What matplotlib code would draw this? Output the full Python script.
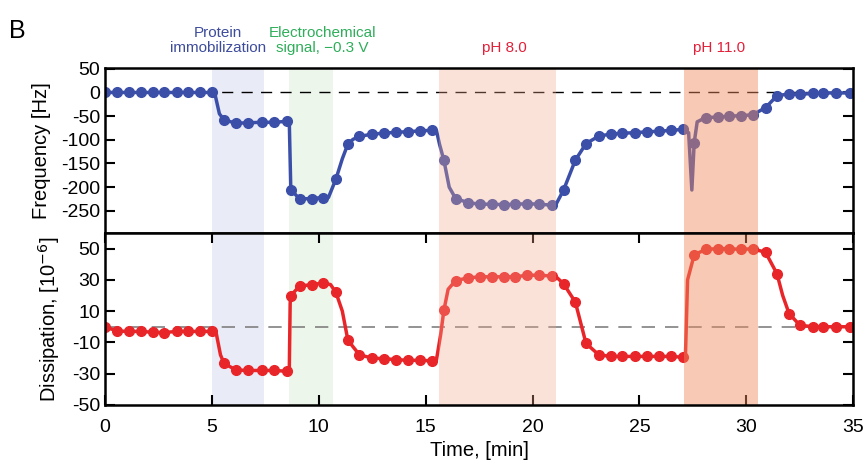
import matplotlib.pyplot as plt

plt.rcParams['font.family'] = ['Liberation Sans', 'DejaVu Sans']
plt.rcParams['axes.unicode_minus'] = False

# sample times (min) where the markers sit
t_pts = [0.0, 0.55, 1.1, 1.67, 2.23, 2.77, 3.35, 3.9, 4.44, 4.99,
         5.57, 6.13, 6.7, 7.32, 7.9, 8.5, 8.69, 9.1, 9.67, 10.2,
         10.8, 11.36, 11.9, 12.48, 13.06, 13.6, 14.15, 14.74, 15.28, 15.85,
         16.4, 17.0, 17.55, 18.1, 18.67, 19.2, 19.76, 20.3, 20.9, 21.45,
         22.0, 22.5, 23.1, 23.66, 24.2, 24.8, 25.35, 25.9, 26.47, 27.03,
         27.56, 28.1, 28.67, 29.2, 29.76, 30.3, 30.9, 31.43, 32.0, 32.5,
         33.1, 33.6, 34.2, 34.86]

freq = [0, 0, 0, 0, 0, 0, 0, 0, 0, 0,
        -58, -65, -64, -63, -63, -61, -205, -225, -224, -222,
        -183, -109, -93, -88, -86, -84, -83, -81, -80, -143,
        -224, -233, -236, -236, -237, -236, -235, -236, -238, -206,
        -143, -108, -92, -88, -86, -85, -83, -82, -80, -78,
        -106, -53, -52, -50, -49, -47, -32, -7, -3, -4,
        -2, -1, -1, -1]

diss = [0, -2.7, -3, -3, -3.5, -3.7, -3, -3, -3, -3,
        -23.5, -27.7, -28, -28, -28, -28.5, 20, 26, 27, 28,
        22, -8.6, -18, -20, -20.5, -21, -21.5, -21.5, -21.8, 10.5,
        29.6, 31.3, 32, 32, 32, 32, 33, 33, 32.5, 27.5,
        15.8, -10.7, -18, -19, -19, -19, -19, -19, -19, -19.5,
        46, 49.6, 50, 50, 49.5, 50, 47.6, 34, 8.4, 1,
        0, 0, 0, 0]

# extra line vertices (sharp corners / the pH 11 dip)
freq_extra_t = [5.15, 5.35, 8.62, 10.45, 11.1, 11.6, 15.5, 15.65, 16.1, 21.1, 27.3, 27.45, 27.7]
freq_extra_v = [-5, -45, -63, -222, -140, -99, -80, -110, -200, -236, -85, -206, -62]
diss_extra_t = [5.2, 5.4, 8.62, 8.66, 10.55, 11.1, 15.5, 15.7, 16.05, 21.1, 27.15, 27.25, 31.7]
diss_extra_v = [-4, -18, -27, 15, 27, 10, -21.5, -5, 24, 32, -19, 30, 20]

spans = [(5.0, 7.45), (8.6, 10.67), (15.6, 21.1), (27.1, 30.55)]
span_colors = ['#e9ebf7', '#edf6ea', '#f5a88a', '#f08a5d']
span_alphas = [1.0, 1.0, 0.33, 0.45]
span_z = [1, 1, 4, 4]
span_labels = ['Protein\nimmobilization', 'Electrochemical\nsignal, \u22120.3 V', 'pH 8.0', 'pH 11.0']
label_x = [5.3, 10.15, 18.7, 28.7]
label_colors = ['#3d4c9c', '#2fae5a', '#e3203a', '#e3203a']


def merged(t, v, et, ev):
    pts = sorted(list(zip(t, v)) + list(zip(et, ev)))
    return [p[0] for p in pts], [p[1] for p in pts]


fig = plt.figure(figsize=(8.68, 4.68), dpi=100)
ax1 = fig.add_axes([0.121, 0.502, 0.862, 0.353])
ax2 = fig.add_axes([0.121, 0.135, 0.862, 0.367])

blue = '#3b4fa8'
red = '#e8262a'

lt, lv = merged(t_pts, freq, freq_extra_t, freq_extra_v)
ax1.plot(lt, lv, color=blue, lw=2.5, zorder=3)
ax1.plot(t_pts, freq, 'o', color=blue, ms=7, zorder=3)
ax1.axhline(0, color='black', lw=1, dashes=(8, 6), zorder=2)

lt, lv = merged(t_pts, diss, diss_extra_t, diss_extra_v)
ax2.plot(lt, lv, color=red, lw=2.5, zorder=3)
ax2.plot(t_pts, diss, 'o', color=red, ms=7, zorder=3)
ax2.axhline(0, color='#808080', lw=1.2, dashes=(8, 6), zorder=2)

for ax in (ax1, ax2):
    for (a, b), c, al, z in zip(spans, span_colors, span_alphas, span_z):
        ax.axvspan(a, b, color=c, alpha=al, lw=0, zorder=z)
    ax.set_xlim(0, 35)
    for s in ax.spines.values():
        s.set_linewidth(1.8)
        s.set_zorder(5)
    ax.tick_params(direction='in', length=7, width=1.5, labelsize=14,
                   left=True, right=True)

ax1.set_ylim(-297, 52)
ax1.set_yticks([50, 0, -50, -100, -150, -200, -250])
ax1.tick_params(axis='x', bottom=False, labelbottom=False)
ax1.set_ylabel('Frequency [Hz]', fontsize=14.5, labelpad=7)

ax2.set_ylim(-50, 60)
ax2.set_yticks([50, 30, 10, -10, -30, -50])
ax2.set_xticks([0, 5, 10, 15, 20, 25, 30, 35])
ax2.tick_params(axis='x', top=True, bottom=True, pad=10)
ax2.set_ylabel('Dissipation, [10$^{-6}$]', fontsize=14.5, labelpad=7)
ax2.set_xlabel('Time, [min]', fontsize=14.5, labelpad=4)

for txt, x, c in zip(span_labels, label_x, label_colors):
    ax1.text(x, 1.075, txt, transform=ax1.get_xaxis_transform(), ha='center',
             va='bottom', color=c, fontsize=11, linespacing=1.15)

fig.text(0.01, 0.96, 'B', fontsize=18, va='top', ha='left')

fig.savefig('out.png', dpi=100)
